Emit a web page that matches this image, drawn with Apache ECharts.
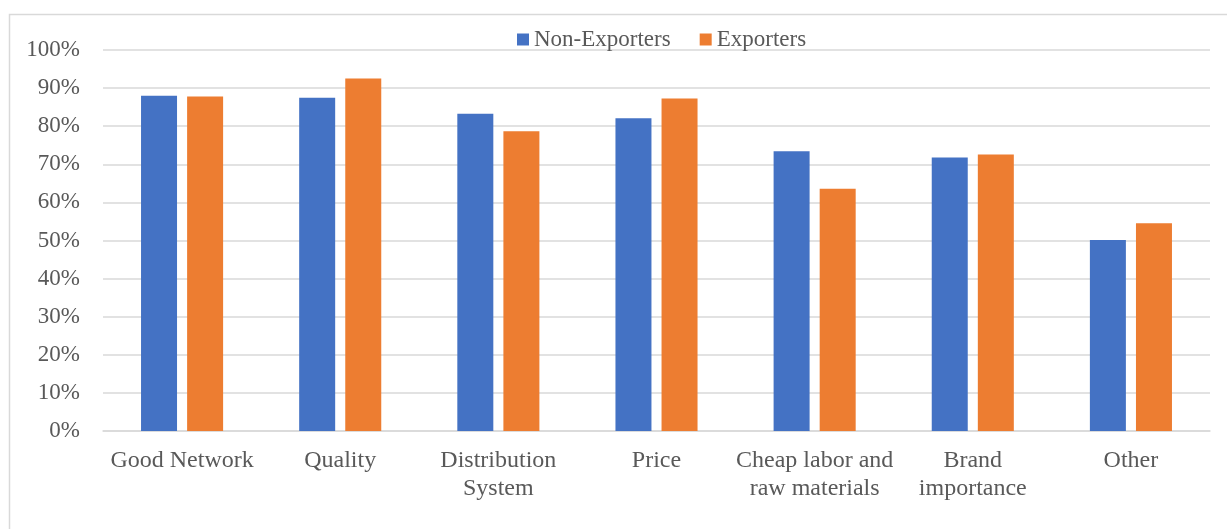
<!DOCTYPE html>
<html>
<head>
<meta charset="utf-8">
<script src="https://cdn.jsdelivr.net/npm/echarts@6/dist/echarts.min.js"></script>
<style>
  html, body { margin: 0; padding: 0; background: #fff; }
  #chart { width: 1227px; height: 529px; }
</style>
</head>
<body>
<div id="chart"></div>
<script>
// Reasons cited, share of firms (%)
const categories = [
  'Good Network',
  'Quality',
  'Distribution\nSystem',
  'Price',
  'Cheap labor and\nraw materials',
  'Brand\nimportance',
  'Other'
];
const nonExporters = [88.0, 87.5, 83.3, 82.1, 73.4, 71.8, 50.1];
const exporters = [87.8, 92.5, 78.7, 87.3, 63.6, 72.6, 54.5];
const yTicks = { min: 0, max: 100, interval: 10 };

const textColor = '#595959';
const fontFamily = '"Liberation Serif", "Times New Roman", serif';

const chart = echarts.init(document.getElementById('chart'));
chart.setOption({
  animation: false,
  backgroundColor: '#ffffff',
  graphic: [{
    type: 'rect',
    silent: true,
    shape: { x: 9.5, y: 14.5, width: 1400, height: 700 },
    style: { fill: 'none', stroke: '#d9d9d9', lineWidth: 1.5 }
  }],
  legend: {
    left: 512,
    top: 23,
    itemWidth: 12,
    itemHeight: 12,
    itemGap: 29,
    icon: 'rect',
    textStyle: { color: textColor, fontSize: 23, fontFamily: fontFamily },
    data: ['Non-Exporters', 'Exporters']
  },
  grid: { left: 103, right: 17, top: 50, bottom: 98, containLabel: false },
  xAxis: {
    type: 'category',
    data: categories,
    axisLine: { show: true, lineStyle: { color: '#d9d9d9', width: 1.5 } },
    axisTick: { show: false },
    axisLabel: {
      color: textColor,
      fontSize: 24,
      fontFamily: fontFamily,
      lineHeight: 28,
      margin: 16,
      interval: 0
    }
  },
  yAxis: {
    type: 'value',
    min: yTicks.min,
    max: yTicks.max,
    interval: yTicks.interval,
    axisLine: { show: false },
    axisTick: { show: false },
    splitLine: { lineStyle: { color: '#d9d9d9', width: 1.5 } },
    axisLabel: {
      color: textColor,
      fontSize: 23,
      fontFamily: fontFamily,
      margin: 23,
      formatter: '{value}%'
    }
  },
  series: [
    {
      name: 'Non-Exporters',
      type: 'bar',
      data: nonExporters,
      barWidth: 36,
      barGap: '28%',
      itemStyle: { color: '#4472C4' }
    },
    {
      name: 'Exporters',
      type: 'bar',
      data: exporters,
      barWidth: 36,
      barGap: '28%',
      itemStyle: { color: '#ED7D31' }
    }
  ]
});
</script>
</body>
</html>
